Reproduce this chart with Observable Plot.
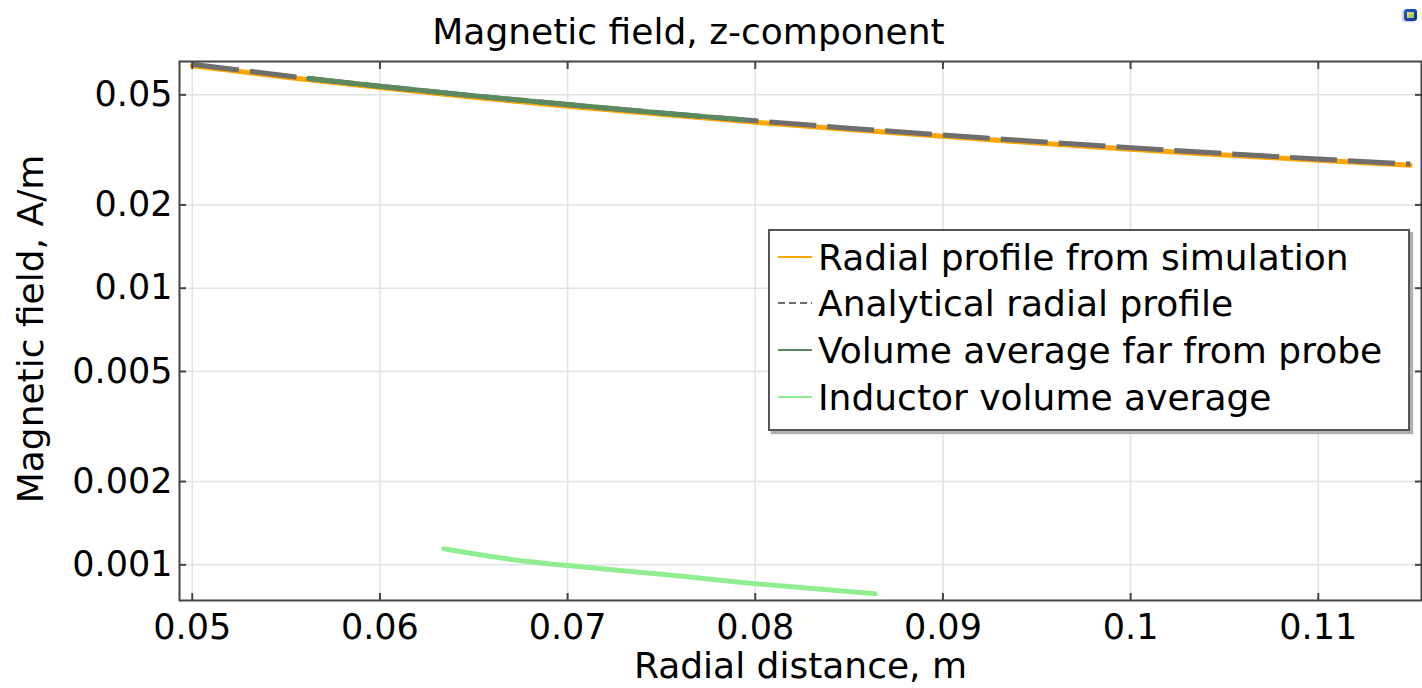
<!DOCTYPE html>
<html>
<head>
<meta charset="utf-8">
<script src="https://cdn.jsdelivr.net/npm/d3@7"></script>
<script src="https://cdn.jsdelivr.net/npm/@observablehq/plot@0.6"></script>
<style>
  html, body { margin: 0; padding: 0; background: white; }
  #wrap { position: relative; width: 1422px; height: 688px; font-family: "DejaVu Sans", sans-serif; }
  #legend { position: absolute; left: 768px; top: 229px; width: 638px; height: 198px; border: 2px solid #555; background: white; box-shadow: 3px 3px 1px #b0b0b0; }
  .row { position: absolute; left: 0; height: 42px; display: flex; align-items: center; font-size: 36px; color: black; white-space: nowrap; }
  .row svg { margin-left: 8px; margin-right: 6px; }
  #ylabel { position: absolute; left: 31px; top: 329px; transform: translate(-50%, -50%) rotate(-90deg); font-size: 36px; white-space: nowrap; color: black; line-height: 1; }
  #icon { position: absolute; left: 1404px; top: 9px; width: 13px; height: 12px; border-radius: 3px; background: linear-gradient(135deg, #1d5fd6, #0b2f8a); box-shadow: -2px 1px 2px #ccc; }
  #icon::after { content: ""; position: absolute; left: 3px; top: 3px; width: 7px; height: 6px; background: linear-gradient(135deg, #ffe14d, #7fc16b); }
</style>
</head>
<body>
<div id="wrap"></div>
<script>
// ---- data ----
const radius = [0.05, 0.055, 0.06, 0.065, 0.07, 0.075, 0.08, 0.085, 0.09, 0.095, 0.1, 0.105, 0.11, 0.1149];
const simulationValues = [0.0637, 0.0579, 0.0531, 0.0490, 0.0455, 0.0425, 0.0398, 0.0375, 0.0354, 0.0335, 0.0318, 0.0303, 0.0290, 0.0278];
const analyticalValues = [0.0645, 0.0586, 0.0537, 0.0496, 0.0461, 0.0430, 0.0403, 0.0379, 0.0358, 0.0339, 0.0322, 0.0307, 0.0293, 0.0281];
const farRadius = [0.0562, 0.06, 0.065, 0.07, 0.075, 0.0794];
const farValues = [0.0573, 0.0537, 0.0496, 0.0461, 0.0430, 0.0406];
const inductorRadius = [0.0634, 0.0664, 0.07, 0.0753, 0.08, 0.0864];
const inductorValues = [0.001143, 0.00106, 0.000994, 0.00092, 0.000854, 0.000786];
const xTicks = [0.05, 0.06, 0.07, 0.08, 0.09, 0.1, 0.11];
const yTicks = [0.001, 0.002, 0.005, 0.01, 0.02, 0.05];
const seriesNames = ["Radial profile from simulation", "Analytical radial profile", "Volume average far from probe", "Inductor volume average"];
const seriesColors = ["#ffa500", "#6e6e6e", "#5a8a5e", "#90ee90"];
const titleText = "Magnetic field, z-component";
const xLabel = "Radial distance, m";
const yLabel = "Magnetic field, A/m";

const toRows = (xs, ys) => xs.map((r, i) => ({r, v: ys[i]}));
const sim = toRows(radius, simulationValues);
const analytic = toRows(radius, analyticalValues);
const far = toRows(farRadius, farValues);
const inductor = toRows(inductorRadius, inductorValues);
const fmt = d => String(+d.toFixed(3));

const axisStroke = "#444";
const chart = Plot.plot({
  width: 1422,
  height: 688,
  marginTop: 61,
  marginLeft: 179,
  marginRight: 1,
  marginBottom: 88,
  style: {fontFamily: "'DejaVu Sans', sans-serif", fontSize: "35px", color: "black", background: "white", overflow: "visible"},
  x: {domain: [0.04932, 0.1155], label: null},
  y: {type: "log", domain: [0.000743, 0.066], label: null},
  marks: [
    Plot.gridX(xTicks, {stroke: "#e2e2e2", strokeOpacity: 1, strokeWidth: 1.5}),
    Plot.gridY(yTicks, {stroke: "#e2e2e2", strokeOpacity: 1, strokeWidth: 1.5}),
    Plot.line(sim, {x: "r", y: "v", stroke: seriesColors[0], strokeWidth: 5}),
    Plot.line(analytic, {x: "r", y: "v", stroke: seriesColors[1], strokeWidth: 5, strokeDasharray: "47,11", strokeLinecap: "butt"}),
    Plot.line(far, {x: "r", y: "v", stroke: seriesColors[2], strokeWidth: 5}),
    Plot.line(inductor, {x: "r", y: "v", stroke: seriesColors[3], strokeWidth: 5, curve: "natural"}),
    Plot.frame({stroke: axisStroke, strokeWidth: 2}),
    // labels
    Plot.axisX(xTicks, {anchor: "bottom", tickSize: 0, tickPadding: 14, tickFormat: fmt, label: null, fill: "black", fontSize: 35}),
    Plot.axisY(yTicks, {anchor: "left", tickSize: 0, tickPadding: 7, tickFormat: fmt, label: null, fill: "black", fontSize: 35}),
    // inward ticks on all sides
    Plot.axisX(xTicks, {anchor: "bottom", tickSize: -7, tickFormat: () => "", label: null, stroke: axisStroke, strokeWidth: 2}),
    Plot.axisX(xTicks, {anchor: "top", tickSize: -7, tickFormat: () => "", label: null, stroke: axisStroke, strokeWidth: 2}),
    Plot.axisY(yTicks, {anchor: "left", tickSize: -7, tickFormat: () => "", label: null, stroke: axisStroke, strokeWidth: 2}),
    Plot.axisY(yTicks, {anchor: "right", tickSize: -7, tickFormat: () => "", label: null, stroke: axisStroke, strokeWidth: 2}),
    // titles
    Plot.text([titleText], {frameAnchor: "top", dx: -112, dy: -29, text: d => d, fontSize: 36, fill: "black", lineAnchor: "middle"}),
    Plot.text([xLabel], {frameAnchor: "bottom", dy: 66, text: d => d, fontSize: 36, fill: "black", lineAnchor: "middle"})
  ]
});

const wrap = document.getElementById("wrap");
wrap.appendChild(chart);

const yl = document.createElement("div");
yl.id = "ylabel";
yl.textContent = yLabel;
wrap.appendChild(yl);

// legend
const legend = document.createElement("div");
legend.id = "legend";
const rowTops = [5, 51, 98, 145];
seriesNames.forEach((name, i) => {
  const row = document.createElement("div");
  row.className = "row";
  row.style.top = rowTops[i] + "px";
  const dash = i === 1 ? 'stroke-dasharray="7,4"' : "";
  row.innerHTML = `<svg width="34" height="6"><line x1="0" y1="3" x2="34" y2="3" stroke="${seriesColors[i]}" stroke-width="2" ${dash}/></svg><span>${name}</span>`;
  legend.appendChild(row);
});
wrap.appendChild(legend);

const icon = document.createElement("div");
icon.id = "icon";
wrap.appendChild(icon);
</script>
</body>
</html>
